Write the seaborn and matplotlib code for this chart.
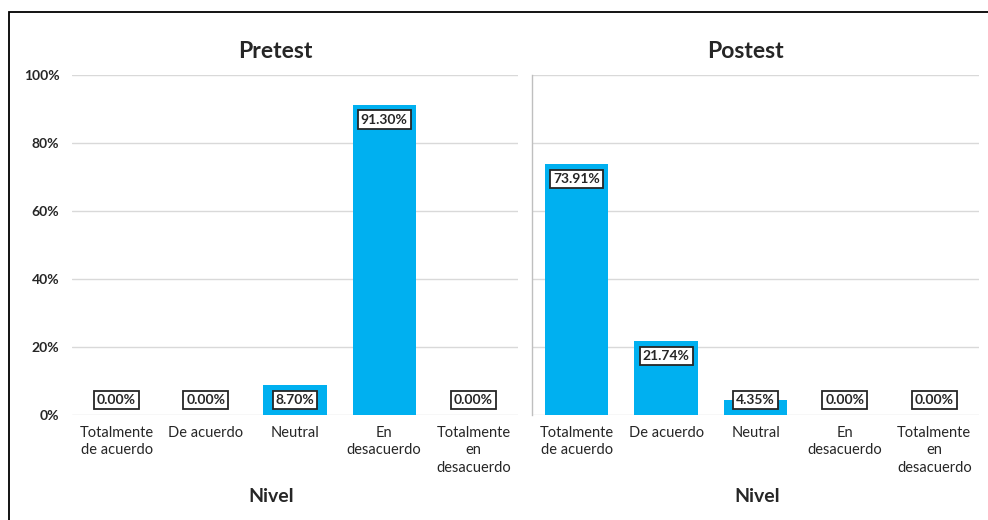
import matplotlib
matplotlib.use("Agg")
import matplotlib.pyplot as plt
import seaborn as sns
import pandas as pd
from matplotlib.patches import Rectangle
from matplotlib.ticker import FuncFormatter, MultipleLocator

categories = ["Totalmente\nde acuerdo", "De acuerdo", "Neutral", "En\ndesacuerdo", "Totalmente\nen\ndesacuerdo"]
pretest = [0.00, 0.00, 8.70, 91.30, 0.00]
postest = [73.91, 21.74, 4.35, 0.00, 0.00]
titles = ["Pretest", "Postest"]

sns.set_style("white")
plt.rcParams['font.family'] = ['Lato', 'DejaVu Sans']

W, H = 988, 520
fig = plt.figure(figsize=(W / 100, H / 100), dpi=100)

def ax_rect(x0, x1, ytop, ybot):
    return [x0 / W, 1 - ybot / H, (x1 - x0) / W, (ybot - ytop) / H]

ax1 = fig.add_axes(ax_rect(72, 518, 75, 415))
ax2 = fig.add_axes(ax_rect(532, 979, 75, 415))

bar_color = "#00B0F0"
title_x = [(275 - 72) / 446, (745 - 532) / 447]
nivel_x = [(271 - 72) / 446, (757 - 532) / 447]
for k, (ax, vals, title, show_y) in enumerate([(ax1, pretest, titles[0], True), (ax2, postest, titles[1], False)]):
    df = pd.DataFrame({"cat": categories, "val": vals})
    sns.barplot(data=df, x="cat", y="val", ax=ax, color=bar_color, width=0.71,
                saturation=1, edgecolor="none", zorder=3)
    ax.set_ylim(0, 100)
    ax.set_xlim(-0.5, len(categories) - 0.5)
    ax.yaxis.set_major_locator(MultipleLocator(20))
    ax.grid(axis="y", color="#D9D9D9", linewidth=1, zorder=0)
    ax.set_axisbelow(True)
    for s in ["top", "right", "bottom", "left"]:
        ax.spines[s].set_visible(False)
    if show_y:
        ax.yaxis.set_major_formatter(FuncFormatter(lambda v, p: f"{v:.0f}%"))
        ax.tick_params(axis="y", length=0, pad=9, labelsize=10)
        for lab in ax.get_yticklabels():
            lab.set_fontweight("bold")
    else:
        ax.set_yticklabels([])
        ax.tick_params(axis="y", length=0)
        ax.spines["left"].set_visible(True)
        ax.spines["left"].set_color("#BFBFBF")
        ax.spines["left"].set_linewidth(1)
    ax.tick_params(axis="x", length=0, pad=8, labelsize=10.5)
    for lab in ax.get_xticklabels():
        lab.set_linespacing(1.3)
        lab.set_verticalalignment("top")
    ax.set_ylabel("")
    ax.set_xlabel("Nivel", fontsize=14, fontweight="bold")
    ax.xaxis.set_label_coords(nivel_x[k], -(497 - 415) / 340)
    ax.xaxis.label.set_verticalalignment("center")
    ax.set_title(title, fontsize=16.5, fontweight="bold", x=title_x[k], pad=12)
    for i, v in enumerate(vals):
        y = max(v - 4.4, 4.4)
        ax.text(i, y, f"{v:.2f}%", ha="center", va="center", fontsize=10,
                fontweight="bold", color="#262626", zorder=5,
                bbox=dict(boxstyle="square,pad=0.22", fc="white", ec="#262626", lw=1.3))

# outer border
fig.patches.append(Rectangle((9 / W, -0.1), 1.2, (520 - 12) / H + 0.1,
                             transform=fig.transFigure, fill=False,
                             edgecolor="black", linewidth=1.3, zorder=10))

fig.savefig("out.png", dpi=100)
